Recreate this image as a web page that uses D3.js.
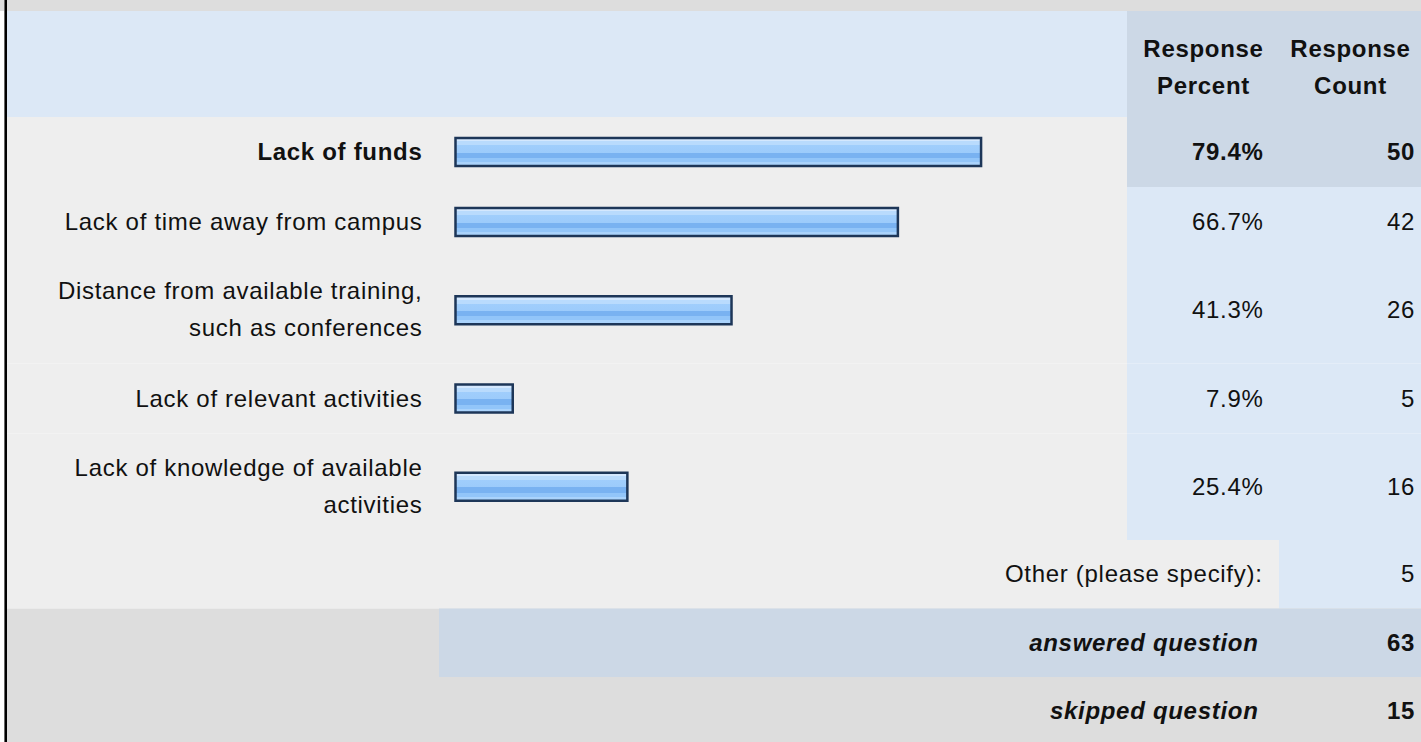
<!DOCTYPE html>
<html>
<head>
  <title>Obstacles to training</title>
  <script type="text/javascript" src="https://d3js.org/d3.v7.min.js"></script>
  <style>
    body { margin: 0; background: #fff; }
    svg { display: block; }
    text { font-family: 'Liberation Sans', Arial, sans-serif; font-size: 24px; letter-spacing: 0.7px; fill: #111; }
  </style>
</head>
<body>
  <div id="container"></div>
  <script type="text/javascript">
    // answer choices (each entry is the lines of its label)
    var answers = [
      ['Lack of funds'],
      ['Lack of time away from campus'],
      ['Distance from available training,', 'such as conferences'],
      ['Lack of relevant activities'],
      ['Lack of knowledge of available', 'activities']
    ];
    var percents = [79.4, 66.7, 41.3, 7.9, 25.4];
    var counts = [50, 42, 26, 5, 16];
    var headers = [['Response', 'Percent'], ['Response', 'Count']];
    var otherLabel = 'Other (please specify):';
    var otherCount = 5;
    var summaryLabels = ['answered question', 'skipped question'];
    var summaryCounts = [63, 15];

    var width = 1421, height = 742;
    var left = 7, labelRight = 439, pctLeft = 1127, cntLeft = 1279;
    var headTop = 11, headH = 106, singleH = 70, doubleH = 106.5;
    var barH = 29;

    var grey = '#dddddd', light = '#eeeeee', blue = '#dce8f6', blueDark = '#ccd8e6';

    var svg = d3.select('#container').append('svg')
      .attr('width', width)
      .attr('height', height);

    var defs = svg.append('defs');
    var grad = defs.append('linearGradient')
      .attr('id', 'barfill')
      .attr('x1', 0).attr('y1', 0).attr('x2', 0).attr('y2', 1);
    [[0, '#d4e8fe'], [0.12, '#d4e8fe'], [0.12, '#b9dbfd'], [0.26, '#b9dbfd'], [0.26, '#a0cefc'],
     [0.52, '#9ccbfb'], [0.52, '#79b2f1'], [0.72, '#79b2f1'], [0.72, '#92c5f9'], [0.86, '#92c5f9'],
     [0.86, '#aad3fc'], [1, '#aad3fc']].forEach(function (s) {
      grad.append('stop').attr('offset', s[0]).attr('stop-color', s[1]);
    });

    var x = d3.scaleLinear().domain([0, 100]).range([461, 1116]);

    // row layout
    var y = headTop + headH;
    var rows = answers.map(function (lines, i) {
      var h = lines.length > 1 ? doubleH : singleH;
      var r = {lines: lines, pct: percents[i], count: counts[i], top: y, h: h, c: y + h / 2};
      y += h;
      return r;
    });
    var maxCount = d3.max(counts);
    var otherTop = y, otherH = 68.5;
    var sumTop = otherTop + otherH, sumH = 68.5;

    // backgrounds
    svg.append('rect').attr('x', 0).attr('y', 0).attr('width', width).attr('height', headTop).attr('fill', grey);
    svg.append('rect').attr('x', left).attr('y', headTop).attr('width', pctLeft - left).attr('height', headH).attr('fill', blue);
    svg.append('rect').attr('x', pctLeft).attr('y', headTop).attr('width', width - pctLeft).attr('height', headH).attr('fill', blueDark);

    var rowG = svg.selectAll('.row')
      .data(rows)
      .enter()
      .append('g')
      .attr('class', 'row');

    rowG.append('rect')
      .attr('x', left).attr('y', d => d.top)
      .attr('width', pctLeft - left).attr('height', d => d.h)
      .attr('fill', light);
    rowG.append('rect')
      .attr('x', pctLeft).attr('y', d => d.top)
      .attr('width', width - pctLeft).attr('height', d => d.h)
      .attr('fill', d => d.count === maxCount ? blueDark : blue);

    svg.append('rect').attr('x', left).attr('y', otherTop).attr('width', cntLeft - left).attr('height', otherH).attr('fill', light);
    svg.append('rect').attr('x', cntLeft).attr('y', otherTop).attr('width', width - cntLeft).attr('height', otherH).attr('fill', blue);

    svg.append('rect').attr('x', left).attr('y', sumTop).attr('width', width - left).attr('height', height - sumTop).attr('fill', grey);
    svg.append('rect').attr('x', labelRight).attr('y', sumTop).attr('width', width - labelRight).attr('height', sumH).attr('fill', blueDark);

    // left border
    svg.append('rect').attr('x', 4).attr('y', 0).attr('width', 1).attr('height', height).attr('fill', '#666');
    svg.append('rect').attr('x', 5).attr('y', 0).attr('width', 2).attr('height', height).attr('fill', '#000');

    // headers
    headers.forEach(function (lines, i) {
      var cx = i === 0 ? (pctLeft + cntLeft) / 2 : (cntLeft + width) / 2;
      lines.forEach(function (t, j) {
        svg.append('text')
          .attr('x', cx + 0.5)
          .attr('y', 57 + j * 37)
          .attr('text-anchor', 'middle')
          .style('font-weight', 'bold')
          .text(t);
      });
    });

    // labels
    rowG.each(function (d) {
      var g = d3.select(this);
      var bold = d.count === maxCount ? 'bold' : 'normal';
      var base = d.lines.length > 1 ? d.c - 11 : d.c + 8;
      d.lines.forEach(function (t, j) {
        g.append('text')
          .attr('x', 422.5)
          .attr('y', base + j * 37)
          .attr('text-anchor', 'end')
          .style('font-weight', bold)
          .text(t);
      });
      g.append('text')
        .attr('x', 1263.5)
        .attr('y', d.c + 8)
        .attr('text-anchor', 'end')
        .style('font-weight', bold)
        .text(d.pct.toFixed(1) + '%');
      g.append('text')
        .attr('x', 1415)
        .attr('y', d.c + 8)
        .attr('text-anchor', 'end')
        .style('font-weight', bold)
        .text(d.count);
    });

    // bars
    rowG.append('rect')
      .attr('x', 455.5)
      .attr('y', d => d.c - barH / 2 + 0.5)
      .attr('width', d => x(d.pct) - 455.5)
      .attr('height', barH - 1)
      .attr('fill', 'url(#barfill)')
      .attr('stroke', '#1d3658')
      .attr('stroke-width', 2.5);

    // other row
    svg.append('text')
      .attr('x', 1262.5).attr('y', otherTop + otherH / 2 + 8)
      .attr('text-anchor', 'end')
      .text(otherLabel);
    svg.append('text')
      .attr('x', 1415).attr('y', otherTop + otherH / 2 + 8)
      .attr('text-anchor', 'end')
      .text(otherCount);

    // summary rows
    summaryLabels.forEach(function (t, i) {
      var cy = sumTop + i * sumH + sumH / 2 + 8;
      svg.append('text')
        .attr('x', 1258.5).attr('y', cy)
        .attr('text-anchor', 'end')
        .style('font-weight', 'bold')
        .style('font-style', 'italic')
        .text(t);
      svg.append('text')
        .attr('x', 1415).attr('y', cy)
        .attr('text-anchor', 'end')
        .style('font-weight', 'bold')
        .text(summaryCounts[i]);
    });
  </script>
</body>
</html>
